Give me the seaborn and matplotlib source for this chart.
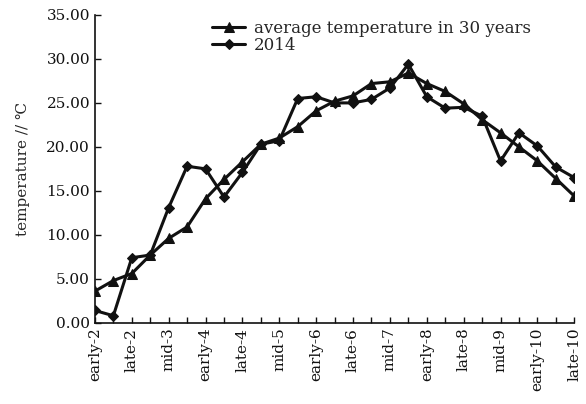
import numpy as np
import pandas as pd
import seaborn as sns
import matplotlib.pyplot as plt

# periodos (decenas de cada mes, de febrero a octubre)
months = [2, 3, 4, 5, 6, 7, 8, 9, 10]
parts = ["early", "mid", "late"]
periods = [f"{p}-{m}" for m in months for p in parts]

avg_30y = [3.6, 4.8, 5.6, 7.7, 9.6, 10.9, 14.1, 16.3, 18.3, 20.3, 21.0, 22.3, 24.1, 25.2,
           25.8, 27.2, 27.4, 28.4, 27.2, 26.3, 24.9, 23.1, 21.6, 20.0, 18.4, 16.4, 14.4]
temp_2014 = [1.4, 0.8, 7.4, 7.7, 13.1, 17.8, 17.5, 14.3, 17.1, 20.3, 20.7, 25.5, 25.7, 25.0,
             25.0, 25.4, 26.7, 29.4, 25.7, 24.4, 24.5, 23.5, 18.4, 21.6, 20.1, 17.7, 16.5]

yticks = [0, 5, 10, 15, 20, 25, 30, 35]

df = pd.DataFrame({"pos": np.arange(len(periods)), "periodo": periods,
                   "avg": avg_30y, "y2014": temp_2014})

sns.set_style("ticks")
plt.rcParams["font.family"] = ["DejaVu Serif"]
plt.rcParams["xtick.direction"] = "in"
plt.rcParams["ytick.direction"] = "in"

fig = plt.figure(figsize=(5.86, 4.04), dpi=100)
ax = fig.add_axes([0.162, 0.201, 0.818, 0.762])

sns.lineplot(data=df, x="pos", y="avg", ax=ax, color="#111111", linewidth=2.2,
             marker="^", markersize=7.5, markeredgecolor="#111111",
             label="average temperature in 30 years")
sns.lineplot(data=df, x="pos", y="y2014", ax=ax, color="#111111", linewidth=2.2,
             marker="D", markersize=5.5, markeredgecolor="#111111", label="2014")

ax.set_xlim(0, len(periods) - 1)
ax.set_ylim(0, 35)
ax.set_yticks(yticks)
ax.set_yticklabels([f"{v:.2f}" for v in yticks], fontsize=11)
ax.set_xticks(df["pos"])
ax.set_xticklabels([lab if i % 2 == 0 else "" for i, lab in enumerate(periods)],
                   rotation=90, fontsize=11)
ax.tick_params(axis="both", length=4, width=1, colors="#111111")
ax.set_xlabel("")
ax.set_ylabel("temperature // ℃", fontsize=11, labelpad=12)

sns.despine(ax=ax)
for s in ["left", "bottom"]:
    ax.spines[s].set_color("#111111")
    ax.spines[s].set_linewidth(1.2)

ax.legend(loc="upper left", bbox_to_anchor=(0.23, 1.005), frameon=False,
          fontsize=12, handlelength=2.0, handletextpad=0.5, labelspacing=0.0,
          borderaxespad=0)

fig.savefig("out.png", dpi=100, facecolor="white")
